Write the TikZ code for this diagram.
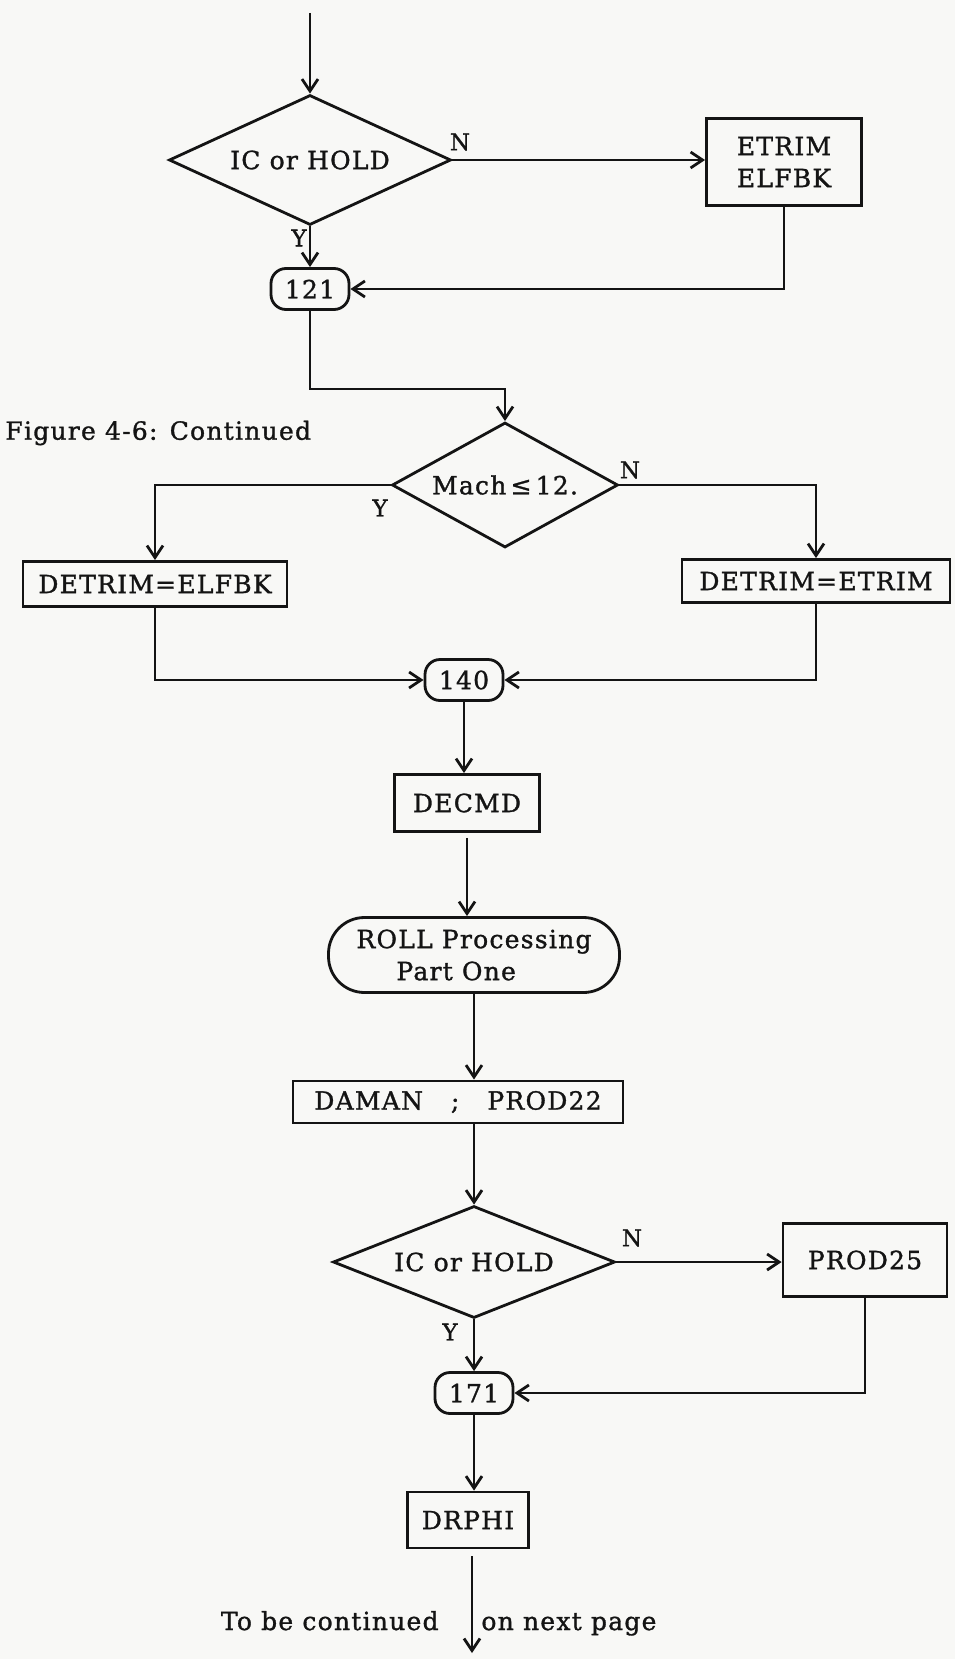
\documentclass[tikz,border=0pt]{standalone}
\usepackage{fontspec}
\setmainfont{DejaVu Serif}[LetterSpace=5, FakeBold=1.2]
\usetikzlibrary{shapes.geometric,arrows.meta}
\definecolor{paper}{RGB}{248,248,246}
\definecolor{ink}{RGB}{20,20,20}

\begin{document}
\begin{tikzpicture}[x=1pt,y=-1pt,
  line width=2.8pt, draw=ink, text=ink,
  every node/.style={font=\fontsize{25}{32}\selectfont, inner sep=0pt},
  proc/.style={draw, rectangle, align=center},
  conn/.style={draw, rectangle, rounded corners=15pt, minimum width=78pt, minimum height=41pt},
  decide/.style={draw, diamond, shape aspect=2.2},
  lbl/.style={font=\fontsize{23}{26}\selectfont},
  arr/.style={-{Straight Barb[length=12pt,width=16pt]}},
]
\fill[paper] (0,0) rectangle (955,1659);
\useasboundingbox (0,0) rectangle (955,1659);

% upper decision: IC or HOLD
\coordinate (top) at (310,13);
\node[decide, minimum width=282pt, minimum height=130pt] (d1) at (310,160) {IC or HOLD};
\node[proc, minimum width=155pt, minimum height=87pt] (etrim) at (784,162) {ETRIM\\ELFBK};
\node[conn] (n121) at (310,289) {121};
\node[lbl] (y1) at (299,238) {Y};
\node[lbl] (n1) at (460,142) {N};

% Mach test
\node[anchor=west] (cap) at (4,433) {Figure 4-6: Continued};
\node[decide, minimum width=226pt, minimum height=125pt] (d2) at (505,485) {Mach\,≤\,12.};
\node[lbl] (y2) at (380,508) {Y};
\node[lbl] (n2) at (630,470) {N};
\node[proc, minimum width=264pt, minimum height=45pt] (dle) at (155,584) {DETRIM=ELFBK};
\node[proc, minimum width=268pt, minimum height=43pt] (dte) at (816,581) {DETRIM=ETRIM};
\node[conn] (n140) at (464,680) {140};

% main column
\node[proc, minimum width=145pt, minimum height=57pt] (decmd) at (467,803) {DECMD};
\node[draw, rounded corners=36pt, minimum width=291pt, minimum height=75pt, align=left] (roll) at (474,955) {ROLL Processing\\\hspace*{40pt}Part One};
\node[proc, minimum width=330pt, minimum height=42pt] (daman) at (458,1102) {DAMAN\hspace{28pt};\hspace{28pt}PROD22};

% lower decision: IC or HOLD
\node[decide, minimum width=282pt, minimum height=112pt] (d3) at (474,1262) {IC or HOLD};
\node[proc, minimum width=164pt, minimum height=73pt] (prod25) at (865,1260) {PROD25};
\node[lbl] (y3) at (450,1332) {Y};
\node[lbl] (n3) at (632,1238) {N};
\node[conn] (n171) at (474,1393) {171};
\node[proc, minimum width=121pt, minimum height=56pt] (drphi) at (468,1520) {DRPHI};
\coordinate (bottom) at (472,1653);
\node[anchor=base east] (tbc) at (440,1630) {To be continued};
\node[anchor=base west] (onp) at (480,1630) {on next page};

% connectors
\draw[arr] (top) -- (d1.north);
\draw[arr] (d1.east) -- (d1.east -| etrim.west);
\draw[arr] (d1.south) -- (n121.north);
\draw[arr] (etrim.south) |- (n121.east);
\draw[arr] (n121.south) -- ++(0,78) -| (d2.north);
\draw[arr] (d2.west) -| (dle.north);
\draw[arr] (d2.east) -| (dte.north);
\draw[arr] (dle.south) |- (n140.west);
\draw[arr] (dte.south) |- (n140.east);
\draw[arr] (n140.south) -- (n140.south |- decmd.north);
\draw[arr, shorten <=5pt] (decmd.south) -- (decmd.south |- roll.north);
\draw[arr] (roll.south) -- (roll.south |- daman.north);
\draw[arr] (d3.north |- daman.south) -- (d3.north);
\draw[arr] (d3.east) -- (d3.east -| prod25.west);
\draw[arr] (d3.south) -- (n171.north);
\draw[arr] (prod25.south) |- (n171.east);
\draw[arr] (n171.south) -- (n171.south |- drphi.north);
\draw[arr, shorten <=7pt] (drphi.south -| bottom) -- (bottom);
\end{tikzpicture}
\end{document}
